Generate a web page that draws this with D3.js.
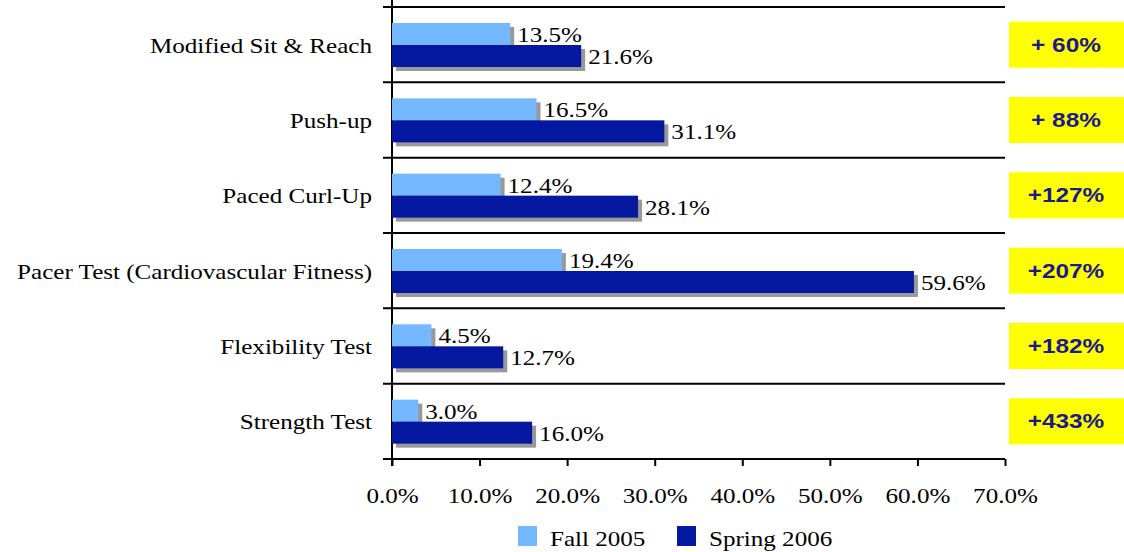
<!DOCTYPE html>
<html>
<head>
<meta charset="utf-8">
<script src="https://cdn.jsdelivr.net/npm/d3@7"></script>
<style>
  body { margin: 0; background: #fff; }
  .serif { font-family: "Liberation Serif", serif; font-size: 22px; fill: #000; }
  .chg { font-family: "Liberation Sans", Arial, sans-serif; font-size: 20px; font-weight: bold; fill: #1a1a8c; }
</style>
</head>
<body>
<div id="root"></div>
<script>
const categories = ["Modified Sit & Reach", "Push-up", "Paced Curl-Up", "Pacer Test (Cardiovascular Fitness)", "Flexibility Test", "Strength Test"];
const fall2005 = [13.5, 16.5, 12.4, 19.4, 4.5, 3.0];
const spring2006 = [21.6, 31.1, 28.1, 59.6, 12.7, 16.0];
const changes = ["+ 60%", "+ 88%", "+127%", "+207%", "+182%", "+433%"];
const xTicks = [0, 10, 20, 30, 40, 50, 60, 70];
const seriesNames = ["Fall 2005", "Spring 2006"];

const colors = ["#74b8ff", "#0519a0"];
const W = 1124, H = 552;
const SERIF_SX = 1.14, SANS_SX = 1.22;

const svg = d3.select("#root").append("svg").attr("width", W).attr("height", H);

const x = d3.scaleLinear().domain([0, 70]).range([392, 1005]);
const y = d3.scaleBand().domain(categories).range([7, 459]);
const sub = d3.scaleBand().domain([0, 1]).range([16, 60]);

// text is drawn a bit wider than the font, like the original
const place = (sel, fx, fy, sx) =>
  sel.attr("x", 0).attr("y", 0)
    .attr("transform", (d, i) => "translate(" + fx(d, i) + "," + fy(d, i) + ") scale(" + sx + ",1)");

// separators between categories
svg.append("g").selectAll("line")
  .data(categories.concat(["end"]))
  .enter().append("line")
  .attr("x1", 383).attr("x2", 1005)
  .attr("y1", (d, i) => 7 + i * y.bandwidth())
  .attr("y2", (d, i) => 7 + i * y.bandwidth())
  .attr("stroke", "#000").attr("stroke-width", 2);

// vertical axis line
svg.append("line").attr("x1", x(0)).attr("x2", x(0)).attr("y1", 0).attr("y2", 466)
  .attr("stroke", "#000").attr("stroke-width", 2);

// x axis
const xAxis = svg.append("g").attr("transform", "translate(0," + 459 + ")")
  .call(d3.axisBottom(x).tickValues(xTicks).tickSize(7).tickFormat(d => d.toFixed(1) + "%"));
xAxis.select(".domain").attr("stroke", "#000").attr("stroke-width", 2).attr("d", "M" + x(0) + ",0H" + x(70));
xAxis.selectAll(".tick line").attr("stroke", "#000").attr("stroke-width", 2);
xAxis.selectAll(".tick text").attr("class", "serif").attr("dy", null)
  .attr("y", 0).attr("transform", "translate(0,44) scale(" + SERIF_SX + ",1)");

const all = [fall2005, spring2006];

all.forEach((vals, si) => {
  const g = svg.append("g");
  // shadows
  g.selectAll("rect.sh").data(vals).enter().append("rect")
    .attr("x", x(0) + 4)
    .attr("y", (d, i) => y(categories[i]) + sub(si) + 4)
    .attr("width", d => x(d) - x(0))
    .attr("height", sub.bandwidth())
    .attr("fill", "#999");
  g.selectAll("rect.bar").data(vals).enter().append("rect")
    .attr("x", x(0))
    .attr("y", (d, i) => y(categories[i]) + sub(si))
    .attr("width", d => x(d) - x(0))
    .attr("height", sub.bandwidth())
    .attr("fill", colors[si]);
  place(g.selectAll("text").data(vals).enter().append("text").attr("class", "serif"),
    d => x(d) + 7,
    (d, i) => y(categories[i]) + sub(si) + sub.bandwidth() / 2 + 8, SERIF_SX)
    .text(d => d.toFixed(1) + "%");
});

// category labels
place(svg.append("g").selectAll("text").data(categories).enter().append("text")
  .attr("class", "serif").attr("text-anchor", "end"),
  d => 372, d => y(d) + y.bandwidth() / 2 + 8, SERIF_SX)
  .text(d => d);

// change boxes
const cg = svg.append("g");
cg.selectAll("rect").data(categories).enter().append("rect")
  .attr("x", 1009).attr("width", 115)
  .attr("y", d => y(d) + y.bandwidth() / 2 - 23).attr("height", 46)
  .attr("fill", "#ffff00");
place(cg.selectAll("text").data(changes).enter().append("text")
  .attr("class", "chg").attr("text-anchor", "middle"),
  d => 1066, (d, i) => y(categories[i]) + y.bandwidth() / 2 + 7, SANS_SX)
  .text(d => d);

// legend
const legX = [518, 677];
const lg = svg.append("g");
seriesNames.forEach((n, i) => {
  lg.append("rect").attr("x", legX[i]).attr("y", 526).attr("width", 19).attr("height", 20).attr("fill", colors[i]);
  lg.append("text").attr("class", "serif")
    .attr("transform", "translate(" + (legX[i] + 32) + ",546) scale(" + SERIF_SX + ",1)")
    .text(n);
});
</script>
</body>
</html>
